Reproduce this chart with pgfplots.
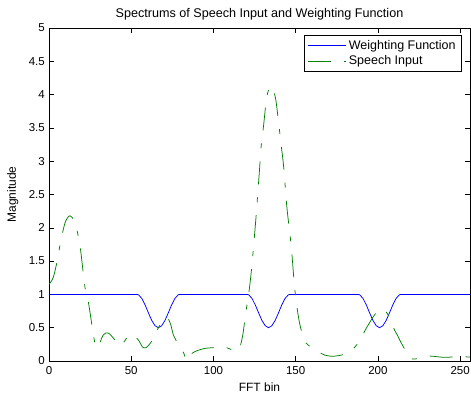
\documentclass[border=0pt]{standalone}
\usepackage{pgfplots}
\pgfplotsset{compat=1.18}
\usepackage{fontspec}
\setmainfont{Liberation Sans}
\definecolor{mgreen}{rgb}{0,0.5,0}
\begin{document}
\begin{tikzpicture}
\begin{axis}[
  scale only axis,
  width=421pt, height=333pt,
  xmin=0, xmax=256, ymin=0, ymax=5,
  xtick={0,50,100,150,200,250},
  ytick={0,0.5,1,1.5,2,2.5,3,3.5,4,4.5,5},
  yticklabels={0,0.5,1,1.5,2,2.5,3,3.5,4,4.5,5},
  /pgf/number format/assume math mode=true,
  tick align=inside, major tick length=5pt,
  xtick pos=both, ytick pos=both,
  axis line style={black, line width=0.6pt},
  tick style={black, line width=0.5pt},
  tick label style={font=\fontsize{11.5}{13}\selectfont},
  xticklabel style={anchor=base, inner sep=0pt, yshift=-14pt},
  yticklabel style={anchor=east, inner sep=0pt, xshift=-4pt},
  title={Spectrums of Speech Input and Weighting Function},
  every axis title/.style={at={(axis description cs:0.5,1)}, anchor=base, yshift=10pt, font=\fontsize{12.6}{14}\selectfont},
  xlabel={FFT bin},
  every axis x label/.style={at={(axis description cs:0.5,0)}, anchor=base, yshift=-31pt, font=\fontsize{12}{14}\selectfont},
  ylabel={Magnitude},
  every axis y label/.style={at={(axis description cs:-0.0784,0.5)}, rotate=90, anchor=base, font=\fontsize{12}{14}\selectfont},
  legend style={at={(1,1)}, anchor=north east, xshift=-8pt, yshift=-7pt,
    draw=black, line width=0.7pt, fill=white, font=\fontsize{12.5}{14}\selectfont,
    inner xsep=3pt, inner ysep=3pt, row sep=1pt,
    nodes={inner xsep=3pt, inner ysep=2pt}},
  legend cell align=left,
  legend image code/.code={\draw[#1] (0pt,0pt) -- (38pt,0pt);},
]
\addplot[blue, line width=0.75pt] coordinates {
(0,1) (53.5,1) (54.5,0.993) (56.5,0.937) (58.5,0.839) (60.5,0.720) (62.5,0.608) (64.5,0.529) (66.5,0.5) (68.5,0.529) (70.5,0.608) (72.5,0.720) (74.5,0.839) (76.5,0.937) (78.5,0.993) (79.5,1)
(120.5,1) (121.5,0.993) (123.5,0.937) (125.5,0.839) (127.5,0.720) (129.5,0.608) (131.5,0.529) (133.5,0.5) (135.5,0.529) (137.5,0.608) (139.5,0.720) (141.5,0.839) (143.5,0.937) (145.5,0.993) (146.5,1)
(188,1) (189,0.993) (191,0.937) (193,0.839) (195,0.720) (197,0.608) (199,0.529) (201,0.5) (203,0.529) (205,0.608) (207,0.720) (209,0.839) (211,0.937) (213,0.993) (214,1) (256,1)
};
\addlegendentry{Weighting Function}
\addplot[mgreen, line width=0.75pt, smooth, tension=0.5, dash pattern=on 23pt off 13pt on 5pt off 13pt] coordinates {
(0,1.15) (2.5,1.25) (4.7,1.47) (6.7,1.74) (9.7,2.07) (12.7,2.18) (15.8,2.07) (18.8,1.74) (21.8,1.12) (23.9,0.89) (25.9,0.57) (27,0.39) (28.5,0.21) (30,0.22) (33,0.39) (36,0.42) (40,0.32) (43,0.23) (46,0.30) (48,0.37) (51,0.40) (54.8,0.30) (56.8,0.21) (59,0.2) (62.3,0.29) (64.3,0.39) (67.4,0.54) (70,0.62) (72,0.65) (74,0.55) (75.5,0.40) (77.5,0.30) (80,0.2) (82.1,0.11) (83.5,0.01) (86.6,0.11) (90.6,0.16) (95,0.19) (99.7,0.20) (103.7,0.21) (108,0.2) (111,0.17) (113.9,0.15) (115.9,0.19) (117.9,0.40) (119.5,0.7) (121.5,1.02) (123,1.34) (124.5,1.75) (126,2.2) (128,2.87) (129,3.22) (130.5,3.54) (131.7,3.82) (133,4.03) (134.7,4.13) (136.5,4.05) (138.1,3.89) (141.2,3.24) (142.8,2.89) (144.6,2.32) (147.3,1.72) (149.3,1.12) (151.3,0.72) (153.3,0.47) (156.3,0.27) (159.4,0.21) (163,0.15) (167.5,0.09) (172.6,0.07) (176,0.08) (180.7,0.11) (184.5,0.17) (187.7,0.26) (189.8,0.34) (192,0.45) (194.8,0.57) (198.8,0.72) (202.8,0.78) (205.5,0.72) (208.4,0.58) (210,0.47) (212,0.38) (214,0.28) (216,0.19) (219,0.07) (221,0.03) (225,0.04) (231,0.075) (234,0.07) (240,0.055) (245,0.06) (249.4,0.065) (256,0.06)
};
\addlegendentry{Speech Input}
\end{axis}
\pgfresetboundingbox
\path[use as bounding box] (-49pt,-34pt) rectangle (422pt,361pt);
\end{tikzpicture}
\end{document}
